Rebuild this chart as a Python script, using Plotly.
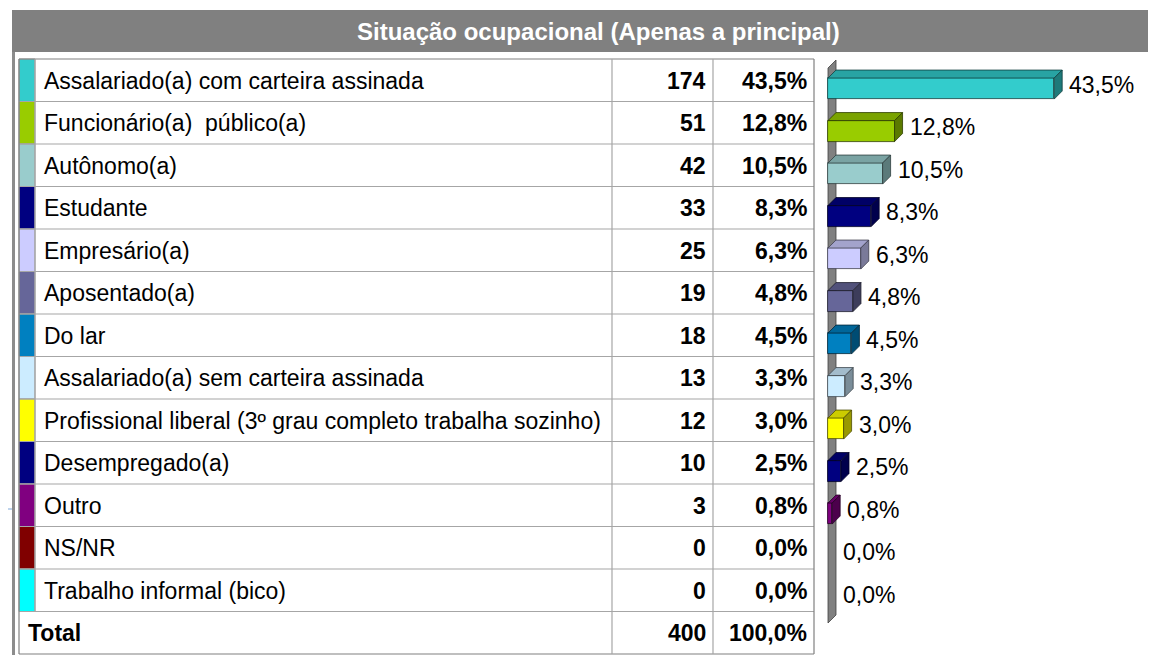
import plotly.graph_objects as go

# ---------------- data ----------------
title = "Situação ocupacional (Apenas a principal)"
categories = [
    "Assalariado(a) com carteira assinada",
    "Funcionário(a)\u00a0 público(a)",
    "Autônomo(a)",
    "Estudante",
    "Empresário(a)",
    "Aposentado(a)",
    "Do lar",
    "Assalariado(a) sem carteira assinada",
    "Profissional liberal (3º grau completo trabalha sozinho)",
    "Desempregado(a)",
    "Outro",
    "NS/NR",
    "Trabalho informal (bico)",
]
counts = [174, 51, 42, 33, 25, 19, 18, 13, 12, 10, 3, 0, 0]
percents = [43.5, 12.8, 10.5, 8.3, 6.3, 4.8, 4.5, 3.3, 3.0, 2.5, 0.8, 0.0, 0.0]
total_label = "Total"
total_count = 400
total_percent = 100.0
colors = ["#33CCCC", "#99CC00", "#99CCCC", "#000080", "#CCCCFF", "#666699",
          "#0080C0", "#CCECFF", "#FFFF00", "#000080", "#800080", "#800000", "#00FFFF"]

# ---------------- layout geometry (page pixels) ----------------
W, H = 1156, 655
OX, OY = 8, 8          # page offset of the figure (body margin)
FONT = "Liberation Sans, Arial, sans-serif"
FS = 23
TOP = 59.0
ROW_H = 42.5
X_T0, X_SW, X_C1, X_C2, X_C3 = 19, 35, 612, 713, 814
PX_PER_PCT = 5.2
ZERO_PX = 828
DEPTH_PX = 8
BAR_H_PX = 21
BAR_OFF_PX = 8.3   # front face center below row center


def fmt_pct(v):
    return f"{v:.1f}".replace(".", ",") + "%"


def shade(hexc, f):
    hexc = hexc.lstrip("#")
    r, g, b = (int(hexc[i:i + 2], 16) for i in (0, 2, 4))
    return "#%02X%02X%02X" % (int(r * f), int(g * f), int(b * f))


def pxx(x):
    return (x - OX) / W


def pxy(y):
    return 1 - (y - OY) / H


n = len(categories)
row_c0 = TOP + ROW_H / 2

# axis mapping for bar area (figure pixel coords)
zero_f = ZERO_PX - OX
row_c0_f = row_c0 - OY
x_range = [-zero_f / PX_PER_PCT, (W - zero_f) / PX_PER_PCT]
y_range = [(H - row_c0_f) / ROW_H, (0 - row_c0_f) / ROW_H]  # reversed
dx = DEPTH_PX / PX_PER_PCT
dy = -DEPTH_PX / ROW_H
bh = BAR_H_PX / ROW_H
boff = BAR_OFF_PX / ROW_H

fig = go.Figure()

# front faces
fig.add_trace(go.Bar(
    x=percents, y=[i + boff for i in range(n)], base=0, orientation="h",
    width=bh, marker=dict(color=colors,
                          line=dict(color=[shade(c, 0.3) for c in colors],
                                    width=[0.8 if v > 0 else 0 for v in percents])),
    hoverinfo="skip", showlegend=False,
))

# top and side faces (3D effect)
for i, (v, c) in enumerate(zip(percents, colors)):
    if v <= 0:
        continue
    yt = i + boff - bh / 2
    yb = i + boff + bh / 2
    fig.add_trace(go.Scatter(
        x=[0, v, v + dx, dx, 0], y=[yt, yt, yt + dy, yt + dy, yt],
        fill="toself", fillcolor=shade(c, 0.8), mode="lines",
        line=dict(color=shade(c, 0.3), width=0.8), hoverinfo="skip", showlegend=False))
    fig.add_trace(go.Scatter(
        x=[v, v, v + dx, v + dx, v], y=[yt, yb, yb + dy, yt + dy, yt],
        fill="toself", fillcolor=shade(c, 0.6), mode="lines",
        line=dict(color=shade(c, 0.3), width=0.8), hoverinfo="skip", showlegend=False))

# bar value labels
for i, v in enumerate(percents):
    fig.add_annotation(x=v + dx, y=i + 0.1, xref="x", yref="y", text=fmt_pct(v),
                       showarrow=False, xanchor="left", yanchor="middle", xshift=5,
                       font=dict(family=FONT, size=FS, color="black"))

shapes = []
# wall (3D left wall of the bar area)
wall_top = (68 - row_c0) / ROW_H
wall_bot = (623 - row_c0) / ROW_H
shapes.append(dict(type="path", xref="x", yref="y", layer="below",
                   path=f"M 0,{wall_bot} L 0,{wall_top} L {dx},{wall_top + dy} L {dx},{wall_bot + dy} Z",
                   fillcolor="#808080", line=dict(color="#404040", width=0.8)))

# header band
shapes.append(dict(type="rect", xref="paper", yref="paper", x0=pxx(12), x1=pxx(W + 20),
                   y0=pxy(52), y1=pxy(10), fillcolor="#808080", line=dict(width=0), layer="below"))
# left strip
shapes.append(dict(type="rect", xref="paper", yref="paper", x0=pxx(12), x1=pxx(15),
                   y0=pxy(H + 20), y1=pxy(52), fillcolor="#8C8C8C", line=dict(width=0), layer="below"))
# thin blue line at left
shapes.append(dict(type="line", xref="paper", yref="paper", x0=pxx(0), x1=pxx(12),
                   y0=pxy(509), y1=pxy(509), line=dict(color="#7DA7D9", width=1)))

# swatches
for i, c in enumerate(colors):
    y0 = TOP + i * ROW_H
    shapes.append(dict(type="rect", xref="paper", yref="paper", x0=pxx(X_T0), x1=pxx(X_SW),
                       y0=pxy(y0 + ROW_H), y1=pxy(y0), fillcolor=c,
                       line=dict(color="#A0A0A0", width=1), layer="below"))

bottom = TOP + (n + 1) * ROW_H
# grid lines
for r in range(n + 2):
    y = TOP + r * ROW_H
    col = "#808080" if r in (0, n + 1) else "#A6A6A6"
    shapes.append(dict(type="line", xref="paper", yref="paper", x0=pxx(X_T0), x1=pxx(X_C3),
                       y0=pxy(y), y1=pxy(y), line=dict(color=col, width=1.2)))
for xv, col in [(X_T0, "#808080"), (X_SW, "#A6A6A6"), (X_C1, "#A6A6A6"),
                (X_C2, "#A6A6A6"), (X_C3, "#808080")]:
    y_start = TOP
    y_end = bottom if xv != X_SW else TOP + n * ROW_H
    shapes.append(dict(type="line", xref="paper", yref="paper", x0=pxx(xv), x1=pxx(xv),
                       y0=pxy(y_start), y1=pxy(y_end), line=dict(color=col, width=1.2)))

annotations = []
annotations.append(dict(x=pxx(598), y=pxy(31), xref="paper", yref="paper", text=f"<b>{title}</b>",
                        showarrow=False, xanchor="center", yanchor="middle",
                        font=dict(family=FONT, size=24, color="white")))
for i in range(n):
    yc = pxy(row_c0 + i * ROW_H + 0.5)
    annotations.append(dict(x=pxx(42), y=yc, xref="paper", yref="paper", text=categories[i],
                            showarrow=False, xanchor="left", yanchor="middle",
                            font=dict(family=FONT, size=FS, color="black")))
    annotations.append(dict(x=pxx(708), y=yc, xref="paper", yref="paper", text=f"<b>{counts[i]}</b>",
                            showarrow=False, xanchor="right", yanchor="middle",
                            font=dict(family=FONT, size=FS, color="black")))
    annotations.append(dict(x=pxx(809), y=yc, xref="paper", yref="paper",
                            text=f"<b>{fmt_pct(percents[i])}</b>",
                            showarrow=False, xanchor="right", yanchor="middle",
                            font=dict(family=FONT, size=FS, color="black")))
yc = pxy(row_c0 + n * ROW_H + 0.5)
annotations.append(dict(x=pxx(26), y=yc, xref="paper", yref="paper", text=f"<b>{total_label}</b>",
                        showarrow=False, xanchor="left", yanchor="middle",
                        font=dict(family=FONT, size=FS, color="black")))
annotations.append(dict(x=pxx(708), y=yc, xref="paper", yref="paper", text=f"<b>{total_count}</b>",
                        showarrow=False, xanchor="right", yanchor="middle",
                        font=dict(family=FONT, size=FS, color="black")))
annotations.append(dict(x=pxx(809), y=yc, xref="paper", yref="paper",
                        text=f"<b>{fmt_pct(total_percent)}</b>",
                        showarrow=False, xanchor="right", yanchor="middle",
                        font=dict(family=FONT, size=FS, color="black")))

fig.update_layout(
    width=W, height=H, margin=dict(l=0, r=0, t=0, b=0),
    paper_bgcolor="white", plot_bgcolor="rgba(0,0,0,0)",
    xaxis=dict(range=x_range, domain=[0, 1], visible=False, fixedrange=True),
    yaxis=dict(range=y_range, domain=[0, 1], visible=False, fixedrange=True),
    shapes=shapes, annotations=list(fig.layout.annotations) + annotations,
    showlegend=False, bargap=0,
)

fig.write_html("out.html")
